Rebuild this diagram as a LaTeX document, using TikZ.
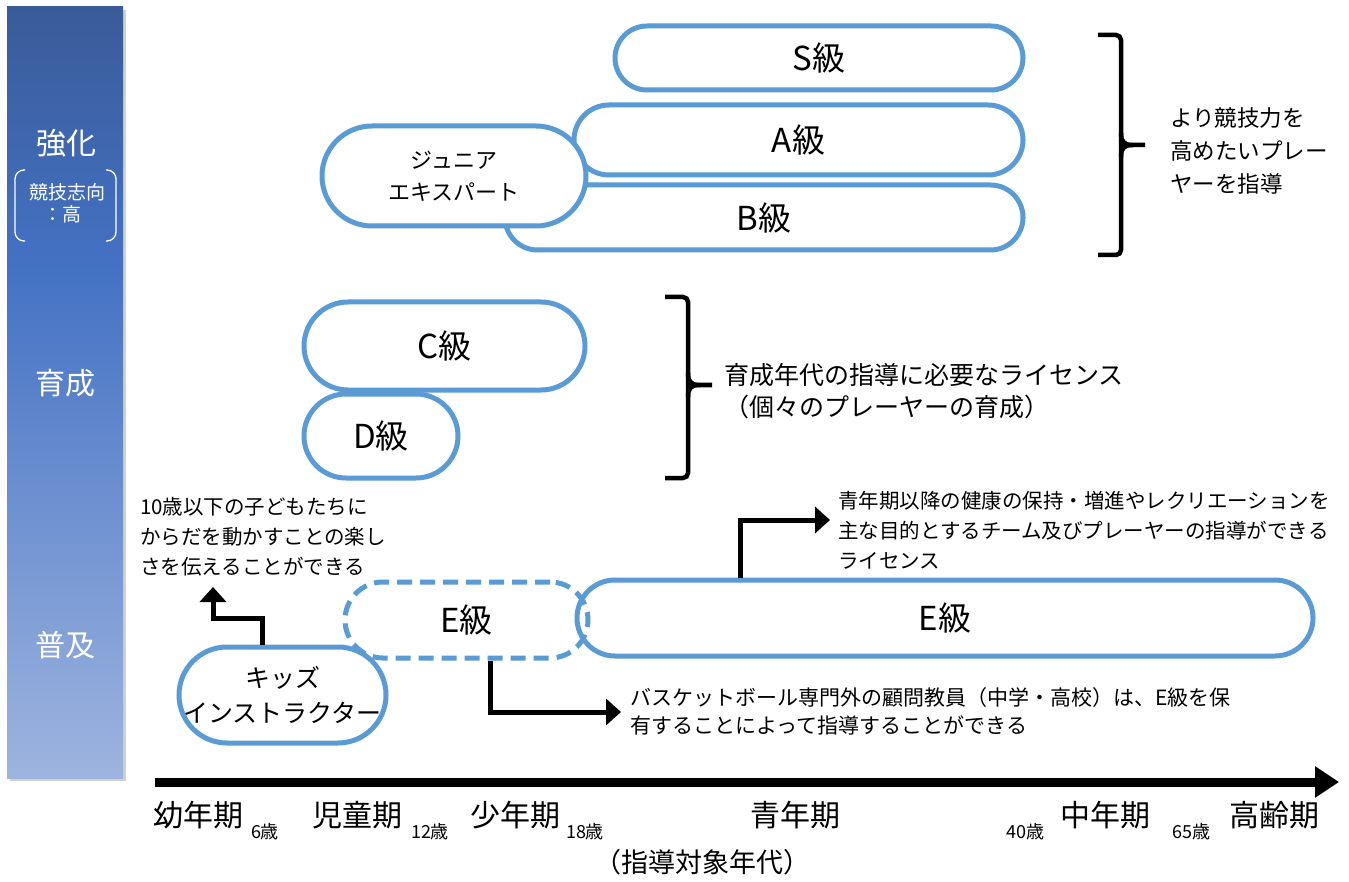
\documentclass[tikz,border=0pt]{standalone}
\usepackage{fontspec}
\setmainfont{Noto Sans CJK JP}
\usetikzlibrary{arrows.meta,shadows}
\definecolor{boxblue}{RGB}{91,155,213}
\definecolor{barT}{RGB}{58,91,153}
\definecolor{barM}{RGB}{68,114,196}
\definecolor{barB}{RGB}{158,180,223}
\pgfdeclareverticalshading{barshade}{100bp}{color(0bp)=(barB); color(25bp)=(barB); color(58bp)=(barM); color(75bp)=(barT); color(100bp)=(barT)}
\newcommand\myfs[2]{\fontsize{#1pt}{#2pt}\selectfont}
\tikzset{
  pill/.style={draw=boxblue, line width=5pt, fill=white, inner sep=0pt, text=black, font=\myfs{33}{40}},
  dpill/.style={draw=boxblue, line width=5pt, inner sep=0pt, text=black, font=\myfs{33}{40}, dash pattern=on 15pt off 8pt},
  elbow/.style={line width=5pt, black, -{Triangle[length=15pt,width=26pt]}},
  bracestyle/.style={line width=4.5pt, black, rounded corners=5pt},
  desc/.style={anchor=west, align=left, inner sep=0pt, text=black},
  bartext/.style={text=white, inner sep=0pt, font=\myfs{30}{36}},
  agelab/.style={inner sep=0pt, text=black, font=\myfs{30}{36}},
  agesub/.style={inner sep=0pt, text=black, font=\myfs{18}{20}}
}
\begin{document}
\begin{tikzpicture}[x=1pt,y=-1pt]
\useasboundingbox (0,0) rectangle (1349,882);
\fill[white] (0,0) rectangle (1349,882);

% left bar
\node[shading=barshade, minimum width=116pt, minimum height=771pt, inner sep=0pt,
      drop shadow={shadow xshift=3pt, shadow yshift=-3pt, opacity=0.3, fill=black!60}] (bar) at (65,392.5) {};
\node[bartext] (kyoka) at (66,143) {強化};
\node[bartext, font=\myfs{19}{24}] (shiko) at (67,192) {競技志向};
\node[bartext, font=\myfs{19}{24}] (taka) at (62,214) {：高};
\draw[white, line width=1.3pt, rounded corners=9pt] (25,170) -- (15,170) -- (15,241) -- (25,241);
\draw[white, line width=1.3pt, rounded corners=9pt] (106,170) -- (116,170) -- (116,241) -- (106,241);
\node[bartext] (ikusei) at (65,383) {育成};
\node[bartext] (fukyu) at (65,645) {普及};

% top group
\node[pill, minimum width=518pt, minimum height=65pt, rounded corners=32.5pt] (B) at (764,217.5) {B級};
\node[pill, minimum width=449pt, minimum height=70pt, rounded corners=35pt] (A) at (798.5,140) {A級};
\node[pill, minimum width=408pt, minimum height=64pt, rounded corners=32pt] (S) at (819,58) {S級};
\node[pill, minimum width=264pt, minimum height=100pt, rounded corners=50pt, align=center, font=\myfs{22}{32}] (J) at (454,176) {ジュニア\\エキスパート};

% middle group
\node[pill, minimum width=281pt, minimum height=88pt, rounded corners=44pt] (C) at (444.5,346) {C級};
\node[pill, minimum width=154pt, minimum height=84pt, rounded corners=42pt] (D) at (381,436) {D級};

% bottom group
\node[dpill, minimum width=243pt, minimum height=76pt, rounded corners=38pt] (Ed) at (466.5,620) {E級};
\node[pill, fill=none, minimum width=736pt, minimum height=76pt, rounded corners=38pt] (Es) at (945,618) {E級};
\node[pill, minimum width=207pt, minimum height=96pt, rounded corners=48pt, align=center, font=\myfs{25}{35}] (K) at (282.5,695) {キッズ\\インストラクター};

% braces
\draw[bracestyle] (1098,35) -- (1121,35) -- (1121,255) -- (1098,255);
\draw[line width=4.5pt] (1121,133) .. controls (1121,142) and (1124,145) .. (1133,145) -- (1145,145);
\draw[line width=4.5pt] (1121,157) .. controls (1121,148) and (1124,145) .. (1133,145);
\node[desc, font=\myfs{22.5}{33}] (t1) at (1170,151) {より競技力を\\高めたいプレー\\ヤーを指導};

\draw[bracestyle] (665,297) -- (688,297) -- (688,478) -- (665,478);
\draw[line width=4.5pt] (688,373) .. controls (688,382) and (691,385) .. (700,385) -- (712,385);
\draw[line width=4.5pt] (688,397) .. controls (688,388) and (691,385) .. (700,385);
\node[desc, font=\myfs{25}{32}] (t2) at (724,391) {育成年代の指導に必要なライセンス\\（個々のプレーヤーの育成）};

% descriptions
\node[desc, font=\myfs{20.5}{30}] (tk) at (140,537) {10歳以下の子どもたちに\\からだを動かすことの楽し\\さを伝えることができる};
\node[desc, font=\myfs{20.5}{30}] (te) at (838,530) {青年期以降の健康の保持・増進やレクリエーションを\\主な目的とするチーム及びプレーヤーの指導ができる\\ライセンス};
\node[desc, font=\myfs{21}{28}] (td) at (630,711) {バスケットボール専門外の顧問教員（中学・高校）は、E級を保\\有することによって指導することができる};

% elbow arrows
\coordinate (k1) at (262,618);
\coordinate (k2) at (213,587);
\draw[elbow] (K.north -| k1) -- (k1) -| (k2);
\coordinate (e1) at (740,520);
\coordinate (e2) at (830,520);
\draw[elbow] (Es.north -| e1) |- (e2);
\coordinate (d1) at (490,712);
\coordinate (d2) at (621,712);
\draw[elbow] (Ed.south -| d1) |- (d2);

% timeline
\coordinate (ax0) at (155,782);
\coordinate (ax1) at (1339,782);
\draw[line width=9pt, -{Triangle[length=24pt,width=30pt]}] (ax0) -- (ax1);
\node[agelab] (l1) at (198,815) {幼年期};
\node[agesub] (s1) at (265,832) {6歳};
\node[agelab] (l2) at (357,815) {児童期};
\node[agesub] (s2) at (430,832) {12歳};
\node[agelab] (l3) at (515,815) {少年期};
\node[agesub] (s3) at (585,832) {18歳};
\node[agelab] (l4) at (795,815) {青年期};
\node[agesub] (s4) at (1025,832) {40歳};
\node[agelab] (l5) at (1105,815) {中年期};
\node[agesub] (s5) at (1191,832) {65歳};
\node[agelab] (l6) at (1274,815) {高齢期};
\node[agelab, font=\myfs{27}{30}] (cap) at (702,862) {（指導対象年代）};
\end{tikzpicture}
\end{document}
